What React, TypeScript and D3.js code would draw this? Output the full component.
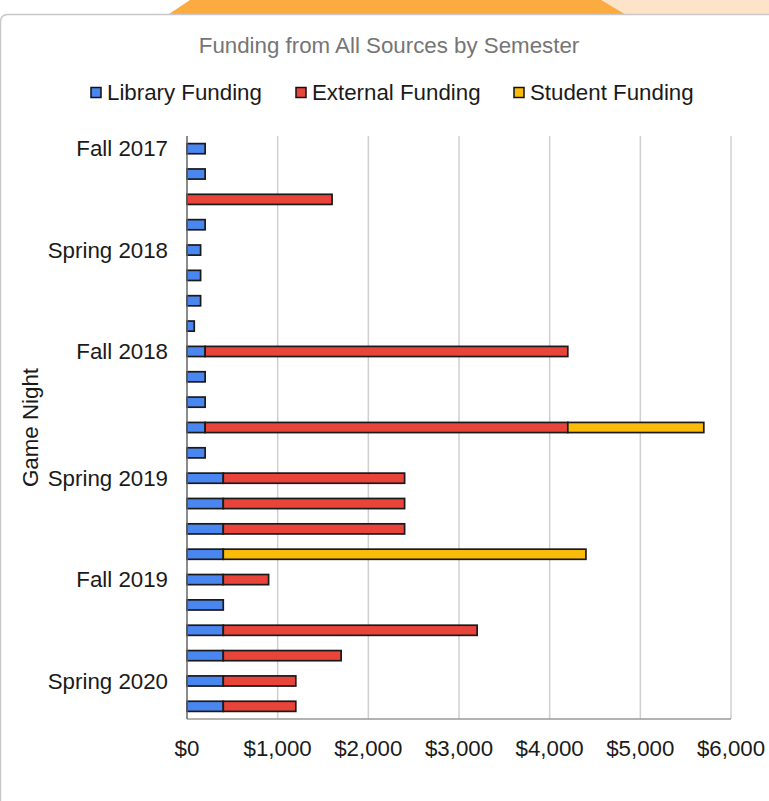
import React, { useEffect, useRef } from 'react';
import * as d3 from 'd3';

// one row per game night, semester name only on the first night of it
const rowLabels = [
  'Fall 2017', '', '', '',
  'Spring 2018', '', '', '',
  'Fall 2018', '', '', '', '',
  'Spring 2019', '', '', '',
  'Fall 2019', '', '', '',
  'Spring 2020', '',
];
const libraryFunding = [200, 200, 0, 200, 150, 150, 150, 80, 200, 200, 200, 200, 200, 400, 400, 400, 400, 400, 400, 400, 400, 400, 400];
const externalFunding = [0, 0, 1600, 0, 0, 0, 0, 0, 4000, 0, 0, 4000, 0, 2000, 2000, 2000, 0, 500, 0, 2800, 1300, 800, 800];
const studentFunding = [0, 0, 0, 0, 0, 0, 0, 0, 0, 0, 0, 1500, 0, 0, 0, 0, 4000, 0, 0, 0, 0, 0, 0];
const xTicks = [0, 1000, 2000, 3000, 4000, 5000, 6000];

const seriesInfo = [
  { key: 'library', label: 'Library Funding', color: '#4a86f0' },
  { key: 'external', label: 'External Funding', color: '#e8443a' },
  { key: 'student', label: 'Student Funding', color: '#fbbc09' },
];

const FONT = '"Liberation Sans", Arial, Helvetica, sans-serif';

export default function App() {
  const svgRef = useRef<SVGSVGElement>(null);

  useEffect(() => {
    if (!svgRef.current) return;
    const svg = d3.select(svgRef.current);
    svg.selectAll('*').remove();

    const W = 769, H = 801;
    const plot = { left: 187, right: 731, top: 136, bottom: 719 };

    // page background pieces above the card
    svg.append('rect').attr('width', W).attr('height', H).attr('fill', '#fff');
    svg.append('rect').attr('x', 600).attr('y', 0).attr('width', 169).attr('height', 16).attr('fill', '#fde4c9');
    svg.append('path')
      .attr('d', 'M166,16 L190,0 L601,0 L628,16 Z')
      .attr('fill', '#fbab40');
    // card (only top edge and rounded corner visible)
    svg.append('rect')
      .attr('x', 0).attr('y', 14.5).attr('width', W).attr('height', H)
      .attr('fill', '#fff');
    svg.append('path')
      .attr('d', `M0.5,${H} L0.5,22 Q0.5,14.5 8,14.5 L${W + 2},14.5`)
      .attr('fill', 'none')
      .attr('stroke', '#c8c8c8')
      .attr('stroke-width', 1.5);

    const rows = rowLabels.map((label, i) => ({
      idx: String(i),
      label,
      library: libraryFunding[i],
      external: externalFunding[i],
      student: studentFunding[i],
    }));

    const x = d3.scaleLinear().domain([0, 6000]).range([plot.left, plot.right]);
    const y = d3.scaleBand()
      .domain(rows.map(d => d.idx))
      .range([plot.top, plot.bottom])
      .paddingInner(0.6)
      .paddingOuter(0.3);

    // title
    svg.append('text')
      .attr('x', 389).attr('y', 53)
      .attr('text-anchor', 'middle')
      .attr('fill', '#757575')
      .style('font-family', FONT)
      .style('font-size', '22.3px')
      .text('Funding from All Sources by Semester');

    // legend
    const legendX = [91, 296, 514];
    const legend = svg.append('g');
    seriesInfo.forEach((s, i) => {
      legend.append('rect')
        .attr('x', legendX[i]).attr('y', 87.5)
        .attr('width', 10).attr('height', 10)
        .attr('fill', s.color)
        .attr('stroke', '#111').attr('stroke-width', 1.5);
      legend.append('text')
        .attr('x', legendX[i] + 16).attr('y', 100)
        .attr('fill', '#1a1a1a')
        .style('font-family', FONT)
        .style('font-size', '22.3px')
        .text(s.label);
    });

    // gridlines
    svg.append('g')
      .selectAll('line')
      .data(xTicks.filter(t => t > 0))
      .join('line')
      .attr('x1', d => x(d)).attr('x2', d => x(d))
      .attr('y1', plot.top).attr('y2', plot.bottom)
      .attr('stroke', '#d0d0d0').attr('stroke-width', 1.5);

    // bottom axis line
    svg.append('line')
      .attr('x1', plot.left).attr('x2', plot.right)
      .attr('y1', plot.bottom).attr('y2', plot.bottom)
      .attr('stroke', '#999').attr('stroke-width', 1.5);

    // x tick labels
    svg.append('g')
      .selectAll('text')
      .data(xTicks)
      .join('text')
      .attr('x', d => x(d)).attr('y', 756)
      .attr('text-anchor', 'middle')
      .attr('fill', '#1a1a1a')
      .style('font-family', FONT)
      .style('font-size', '22.3px')
      .text(d => '$' + d3.format(',')(d));

    // stacked bars
    const stacked = d3.stack<any>().keys(seriesInfo.map(s => s.key))(rows);
    stacked.forEach((layer, li) => {
      svg.append('g')
        .selectAll('rect')
        .data(layer.filter(seg => seg[1] - seg[0] > 0))
        .join('rect')
        .attr('x', seg => x(seg[0]))
        .attr('y', seg => y(seg.data.idx)!)
        .attr('width', seg => x(seg[1]) - x(seg[0]))
        .attr('height', y.bandwidth())
        .attr('fill', seriesInfo[li].color)
        .attr('stroke', '#1a1a1a')
        .attr('stroke-width', 1.7);
    });

    // left axis line
    svg.append('line')
      .attr('x1', plot.left).attr('x2', plot.left)
      .attr('y1', plot.top).attr('y2', plot.bottom)
      .attr('stroke', '#666').attr('stroke-width', 1.5);

    // y labels
    svg.append('g')
      .selectAll('text')
      .data(rows.filter(d => d.label !== ''))
      .join('text')
      .attr('x', 168)
      .attr('y', d => y(d.idx)! + y.bandwidth() / 2 + 7.8)
      .attr('text-anchor', 'end')
      .attr('fill', '#1a1a1a')
      .style('font-family', FONT)
      .style('font-size', '22.3px')
      .text(d => d.label);

    // y axis title
    svg.append('text')
      .attr('transform', `translate(38,${(plot.top + plot.bottom) / 2}) rotate(-90)`)
      .attr('text-anchor', 'middle')
      .attr('fill', '#1a1a1a')
      .style('font-family', FONT)
      .style('font-size', '22.3px')
      .text('Game Night');
  }, []);

  return (
    <svg
      ref={svgRef}
      width={769}
      height={801}
      style={{ position: 'absolute', left: 0, top: 0, display: 'block' }}
    />
  );
}
